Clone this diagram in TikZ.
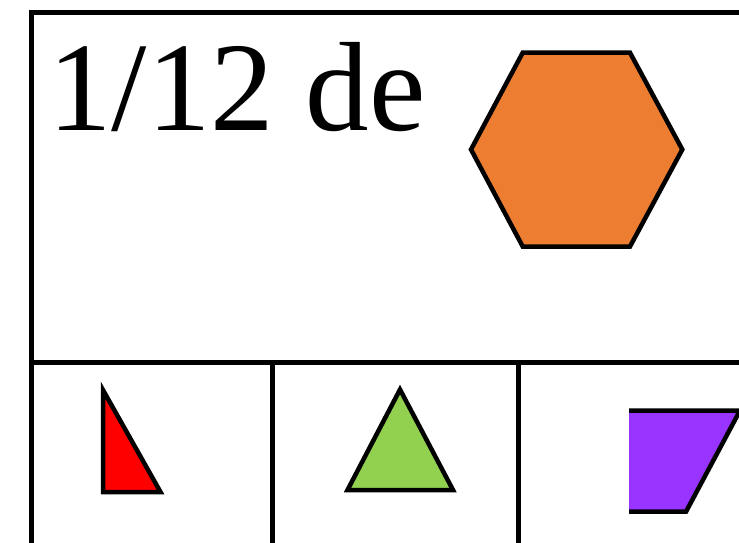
\documentclass[tikz,border=0pt]{standalone}
\usepackage{fontspec}
\setmainfont{Liberation Serif}
\definecolor{hexorange}{HTML}{ED7D31}
\definecolor{trired}{HTML}{FF0000}
\definecolor{trigreen}{HTML}{92D050}
\definecolor{trappurple}{HTML}{9933FF}
\tikzset{
  frameline/.style={line width=5pt, draw=black, line join=miter},
  shapeline/.style={line width=4.5pt, draw=black, line join=miter},
}
\begin{document}
\begin{tikzpicture}[x=1pt, y=-1pt]
\useasboundingbox (0,0) rectangle (739,542);
\clip (0,0) rectangle (739,542);
% frame
\draw[frameline] (31,560) -- (31,12.5) -- (760,12.5);
\draw[frameline] (31,362) -- (760,362);
\draw[frameline] (272,362) -- (272,560);
\draw[frameline] (518,362) -- (518,560);
% title
\node[anchor=base west, inner sep=0pt, font=\fontsize{127}{150}\selectfont] (title) at (48,130) {1/12 de};
% hexagon
\draw[shapeline, fill=hexorange] (522.7,52.7) -- (630,52.7) -- (682.3,149.5) -- (630,246.5) -- (522.7,246.5) -- (471,149.5) -- cycle;
% red right triangle
\draw[shapeline, fill=trired] (103,390) -- (103,492) -- (160.5,492) -- cycle;
% green triangle
\draw[shapeline, fill=trigreen] (400,389.5) -- (453,490) -- (347.5,490) -- cycle;
% purple trapezoid (cut at left)
\fill[trappurple] (629,410.5) -- (740,410.5) -- (686,511.7) -- (629,511.7) -- cycle;
\draw[shapeline] (629,410.5) -- (740,410.5) -- (686,511.7) -- (629,511.7);
\end{tikzpicture}
\end{document}
